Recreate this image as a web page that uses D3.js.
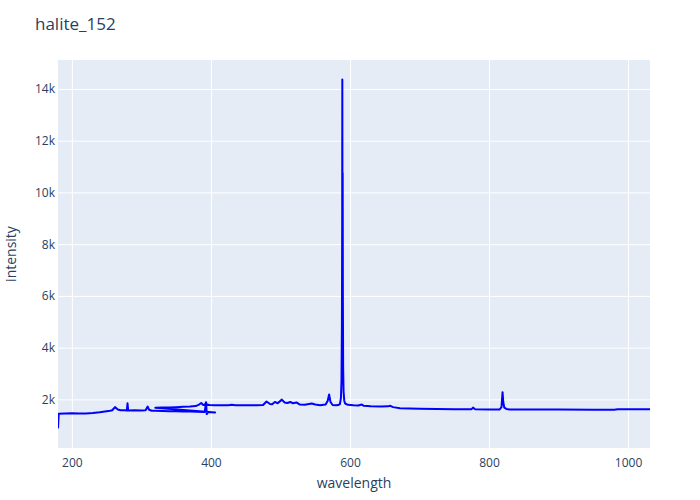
<!DOCTYPE html>
<html><head><meta charset="utf-8">
<script src="https://cdn.jsdelivr.net/npm/d3@7"></script>
<style>body{margin:0;background:#fff} text{font-family:"Open Sans",sans-serif}</style>
</head><body>
<svg id="chart" width="700" height="500"></svg>
<script>
const chartTitle = "halite_152";
const xLabel = "wavelength";
const yLabel = "intensity";
const wavelength = [
  180,181,190,200,210,220,230,240,250,255,258,262,266,270,276,279,280,281,290,300,306,309,311,315,320,330,340,350,360,370,380,390,391,393,394,396,400,406,
  320,330,340,350,360,370,378,383,386,389,391,393,394,396,398,405,415,425,430,435,445,455,465,475,480,485,488,492,496,502,506,510,514,518,523,528,535,545,550,557,565,568,570,572,575,580,583,585.5,587,587.8,588.4,588.8,589.0,589.2,589.5,589.8,590.2,590.8,591.8,593,597,605,612,617,620,630,645,655,658,662,672,700,750,775,777,780,800,815,818,819.5,820.5,822,825,830,870,900,950,980,985,1000,1031.6
];
const intensity = [
  880,1440,1450,1460,1450,1450,1470,1500,1540,1560,1580,1700,1610,1580,1580,1570,1850,1570,1580,1570,1580,1720,1600,1560,1560,1550,1545,1540,1530,1530,1520,1515,1510,1890,1430,1510,1500,1490,
  1680,1690,1690,1700,1710,1720,1740,1800,1860,1780,1790,1880,1780,1790,1780,1770,1775,1770,1790,1770,1775,1770,1775,1780,1920,1820,1810,1900,1850,1990,1880,1860,1900,1850,1880,1800,1790,1840,1800,1770,1800,1950,2190,1900,1780,1770,1780,1820,2050,2700,4800,8660,14370,9000,10750,6000,3200,2300,1950,1840,1790,1770,1760,1800,1750,1730,1720,1730,1750,1700,1660,1640,1620,1620,1680,1620,1605,1605,1700,2280,1900,1680,1630,1605,1605,1605,1600,1600,1615,1615,1615
];
const xTicks = [200,400,600,800,1000];
const yTicks = [2000,4000,6000,8000,10000,12000,14000];

const svg = d3.select("#chart");
const W = 700, H = 500;
const m = {l:58, r:50, t:60, b:52};
const pw = W - m.l - m.r, ph = H - m.t - m.b;
const x = d3.scaleLinear().domain([180, 1031.6]).range([m.l, m.l + pw]);
const y = d3.scaleLinear().domain([120, 15120]).range([m.t + ph, m.t]);
const txt = "#2a3f5f";

svg.append("rect").attr("x", m.l).attr("y", m.t).attr("width", pw).attr("height", ph).attr("fill", "#E5ECF6");

const gx = svg.append("g").attr("transform", `translate(0,${m.t+ph})`)
  .call(d3.axisBottom(x).tickValues(xTicks).tickSize(-ph).tickPadding(10).tickFormat(d3.format("d")));
const gy = svg.append("g").attr("transform", `translate(${m.l},0)`)
  .call(d3.axisLeft(y).tickValues(yTicks).tickSize(-pw).tickPadding(3).tickFormat(d => d3.format("~s")(d)));
[gx, gy].forEach(g => {
  g.select(".domain").remove();
  g.selectAll(".tick line").attr("stroke", "#fff").attr("stroke-width", 1);
  g.selectAll(".tick text").attr("fill", txt).attr("font-size", 12);
});
gx.selectAll(".tick text").attr("dy", "0.71em");

svg.append("clipPath").attr("id", "clip").append("rect")
  .attr("x", m.l).attr("y", m.t).attr("width", pw).attr("height", ph);

const pts = wavelength.map((w, i) => [w, intensity[i]]);
svg.append("path").attr("clip-path", "url(#clip)")
  .attr("d", d3.line().x(d => x(d[0])).y(d => y(d[1]))(pts))
  .attr("fill", "none").attr("stroke", "#0000ff").attr("stroke-width", 2).attr("stroke-linejoin", "round");

svg.append("text").attr("x", 35).attr("y", 30).attr("fill", txt).attr("font-size", 17).text(chartTitle);
svg.append("text").attr("x", m.l + pw/2).attr("y", 488).attr("text-anchor", "middle").attr("fill", txt).attr("font-size", 14).text(xLabel);
svg.append("text").attr("transform", `translate(16,${m.t + ph/2}) rotate(-90)`).attr("text-anchor", "middle").attr("fill", txt).attr("font-size", 14).text(yLabel);
</script>
</body></html>
